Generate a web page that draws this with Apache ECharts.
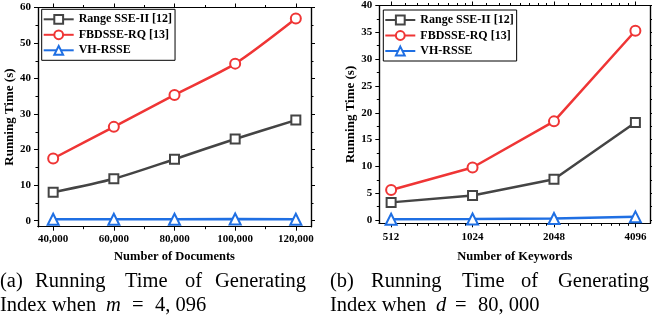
<!DOCTYPE html>
<html>
<head>
<meta charset="utf-8">
<script src="https://cdn.jsdelivr.net/npm/echarts@6/dist/echarts.min.js"></script>
<style>
  html, body { margin: 0; padding: 0; background: #fff; }
  #chart { width: 652px; height: 323px; }
</style>
</head>
<body>
<div id="chart"></div>
<script>
const seriesNames = ['Range SSE-II [12]', 'FBDSSE-RQ [13]', 'VH-RSSE'];

// (a) running time vs number of documents, m = 4,096
const docCounts = [40000, 60000, 80000, 100000, 120000];
const rangeDocs = [8.0, 11.8, 17.3, 23.0, 28.3];
const fbdDocs = [17.5, 26.4, 35.4, 44.2, 56.9];
const vhDocs = [0.4, 0.4, 0.4, 0.45, 0.4];

// (b) running time vs number of keywords, d = 80,000
const kwCounts = [512, 1024, 2048, 4096];
const rangeKw = [3.3, 4.6, 7.6, 18.2];
const fbdKw = [5.6, 9.8, 18.4, 35.3];
const vhKw = [0.15, 0.2, 0.3, 0.6];

// tick values
const docMinor = [50000, 70000, 90000, 110000];
const timeMajorA = [0, 10, 20, 30, 40, 50, 60];
const timeMinorA = [5, 15, 25, 35, 45, 55];
const timeMajorB = [0, 5, 10, 15, 20, 25, 30, 35, 40];
const timeMinorB = [2.5, 7.5, 12.5, 17.5, 22.5, 27.5, 32.5, 37.5];
const kwMinor = [576, 640, 704, 768, 832, 896, 960, 1152, 1280, 1408, 1536, 1664, 1792, 1920,
                 2304, 2560, 2816, 3072, 3328, 3584, 3840];

const colors = ['#444444', '#ef3535', '#1f6fe3'];
const symbols = ['emptyRect', 'emptyCircle', 'emptyTriangle'];
const symSizes = [9, 10, 11];
const serif = 'Liberation Serif';

const kwMin = 463, kwMax = 4650;

const chart = echarts.init(document.getElementById('chart'));

const lineStyle = { color: '#000', width: 1.2 };

// axis carrying only ticks (frame sides, minor ticks)
function tickAxis(base, pos, values, len) {
  return Object.assign({}, base, {
    position: pos,
    axisLine: { show: true, onZero: false, lineStyle: lineStyle },
    axisTick: { show: true, inside: false, length: len, customValues: values, lineStyle: { color: '#000', width: 1 } },
    axisLabel: { show: false },
    splitLine: { show: false }
  });
}

const labelStyle = { color: '#000', fontFamily: serif, fontWeight: 'bold', fontSize: 11 };
const nameStyleX = { color: '#000', fontFamily: serif, fontWeight: 'bold', fontSize: 12.5 };
const nameStyleY = { color: '#000', fontFamily: serif, fontWeight: 'bold', fontSize: 13 };

const xDocBase = { gridIndex: 0, type: 'value', min: 35000, max: 125000 };
const yABase = { gridIndex: 0, type: 'value', min: -1.7, max: 60 };
const log2 = v => Math.log2(v);
const xExpBase = { gridIndex: 1, type: 'value', min: log2(kwMin), max: log2(kwMax) };
const yBBase = { gridIndex: 1, type: 'value', min: -0.6, max: 40 };

const xAxes = [
  Object.assign({}, tickAxis(xDocBase, 'bottom', docCounts, 4), {
    axisLabel: { show: true, customValues: docCounts, margin: 7, formatter: v => v.toLocaleString('en-US'), ...labelStyle },
    name: 'Number of Documents', nameLocation: 'middle', nameGap: 24, nameTextStyle: nameStyleX
  }),
  tickAxis(xDocBase, 'bottom', docMinor, 2.5),
  tickAxis(xDocBase, 'top', docCounts, 4),
  tickAxis(xDocBase, 'top', docMinor, 2.5),
  {
    gridIndex: 1, type: 'log', logBase: 2, min: kwMin, max: kwMax, position: 'bottom',
    axisLine: { show: true, onZero: false, lineStyle: lineStyle },
    axisTick: { show: false },
    axisLabel: { showMinLabel: false, showMaxLabel: false, margin: 8, formatter: v => String(v), ...labelStyle },
    splitLine: { show: false },
    name: 'Number of Keywords', nameLocation: 'middle', nameGap: 27, nameTextStyle: nameStyleX
  },
  tickAxis(xExpBase, 'bottom', kwCounts.map(log2), 4),
  tickAxis(xExpBase, 'bottom', kwMinor.map(log2), 2.5),
  tickAxis(xExpBase, 'top', kwCounts.map(log2), 4),
  tickAxis(xExpBase, 'top', kwMinor.map(log2), 2.5)
];

const yAxes = [
  Object.assign({}, tickAxis(yABase, 'left', timeMajorA, 4), {
    axisLabel: { show: true, customValues: timeMajorA, margin: 7, ...labelStyle },
    name: 'Running Time (s)', nameLocation: 'middle', nameGap: 18, nameTextStyle: nameStyleY
  }),
  tickAxis(yABase, 'left', timeMinorA, 2.5),
  tickAxis(yABase, 'right', timeMajorA, 4),
  tickAxis(yABase, 'right', timeMinorA, 2.5),
  Object.assign({}, tickAxis(yBBase, 'left', timeMajorB, 4), {
    axisLabel: { show: true, customValues: timeMajorB, margin: 7, ...labelStyle },
    name: 'Running Time (s)', nameLocation: 'middle', nameGap: 17, nameTextStyle: nameStyleY
  }),
  tickAxis(yBBase, 'left', timeMinorB, 2.5),
  tickAxis(yBBase, 'right', timeMajorB, 4),
  tickAxis(yBBase, 'right', timeMinorB, 2.5)
];

function makeSeries(i, xs, ys, xIdx, yIdx, smooth) {
  return {
    name: seriesNames[i],
    type: 'line',
    xAxisIndex: xIdx,
    yAxisIndex: yIdx,
    data: xs.map((x, k) => [x, ys[k]]),
    smooth: smooth,
    symbol: symbols[i],
    symbolSize: symSizes[i],
    showSymbol: true,
    lineStyle: { color: colors[i], width: 2.5 },
    itemStyle: { color: colors[i], borderWidth: 1.5 },
    z: 5 - i
  };
}

const series = [
  makeSeries(0, docCounts, rangeDocs, 0, 0, 0.25),
  makeSeries(1, docCounts, fbdDocs, 0, 0, 0.25),
  makeSeries(2, docCounts, vhDocs, 0, 0, false),
  makeSeries(0, kwCounts, rangeKw, 4, 4, false),
  makeSeries(1, kwCounts, fbdKw, 4, 4, false),
  makeSeries(2, kwCounts, vhKw, 4, 4, false)
];

const legendBase = {
  orient: 'vertical',
  data: seriesNames,
  itemWidth: 30,
  itemHeight: 11,
  itemGap: 3.5,
  padding: [4, 3, 4, 1],
  borderColor: '#000',
  borderWidth: 1,
  backgroundColor: '#fff',
  selectedMode: false,
  textStyle: { color: '#000', fontFamily: serif, fontWeight: 'bold', fontSize: 12 }
};

const capSize = 20.5;
const capFont = { fontFamily: serif, fontSize: capSize, fill: '#000' };
function word(text, x, y, italic) {
  return {
    type: 'text', x: x, y: y,
    style: Object.assign({ text: text, verticalAlign: 'middle', fontStyle: italic ? 'italic' : 'normal' }, capFont)
  };
}
const capWords = ['Running', 'Time', 'of', 'Generating'];
const capXA = [35, 125, 185, 215];
const capXB = [371, 462, 521, 558];

const graphics = [word('(a)', 0, 282), word('(b)', 330, 282)];
capWords.forEach((w, i) => {
  graphics.push(word(w, capXA[i], 282));
  graphics.push(word(w, capXB[i], 282));
});
// second caption line, math set with wider spacing
graphics.push(word('Index when', 0, 306), word('m', 106, 306, true), word('=', 132, 306), word('4, 096', 155, 306));
graphics.push(word('Index when', 330, 306), word('d', 436, 306, true), word('=', 455, 306), word('80, 000', 478, 306));

const option = {
  animation: false,
  backgroundColor: '#fff',
  textStyle: { fontFamily: serif },
  grid: [
    { left: 38, top: 7.5, width: 273, height: 219.2 },
    { left: 379.3, top: 4.7, width: 271, height: 218.6 }
  ],
  xAxis: xAxes,
  yAxis: yAxes,
  legend: [
    Object.assign({}, legendBase, { left: 41.7, top: 9.3 }),
    Object.assign({}, legendBase, { left: 383.3, top: 10 })
  ],
  series: series,
  graphic: graphics
};

chart.setOption(option);
</script>
</body>
</html>
